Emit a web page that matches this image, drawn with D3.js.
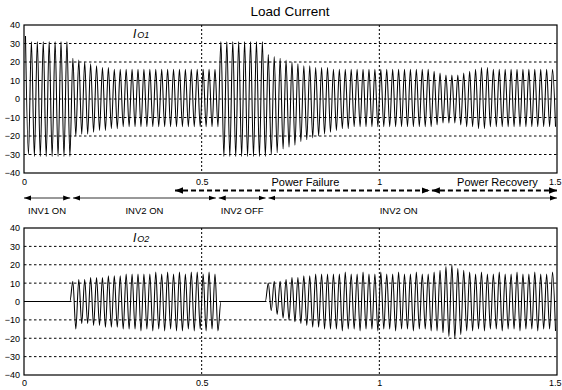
<!DOCTYPE html>
<html>
<head>
<meta charset="utf-8">
<script src="https://cdn.jsdelivr.net/npm/d3@7"></script>
<style>
	body{margin:0;background:#fff}
	text{font-family:'Liberation Sans',Arial,sans-serif;fill:#000}
</style>
</head>
<body>
<script>
// peak values per 60 Hz cycle (cycle i -> positive peak, then negative peak)
var freq = 60
var io1Pos = [
	34,31,31,31,31,31,31,31,
	22,21,20,19,18,17,17,16,16,16, 16,16,16,16,16,16,16,16,16,16, 16,16,16,16,16,
	31,31,31,31,31,31,31,31,
	24,23,22,21,20,19,18,18,17,17, 17,16,16,16,16,16,16,16,16,16, 16,16,16,16,16,16,16,16,
	15,14,13,13,13,14,15,
	16,17,17,16,16,16,16,16,16,16,16,16,16,16]
var io1Neg = [
	-30,-31,-31,-31,-31,-31,-31,-31,
	-20,-19,-19,-18,-17,-17,-16,-16,-15,-15, -15,-15,-15,-15,-15,-15,-15,-15,-15,-15, -15,-15,-15,-15,-15,
	-31,-31,-31,-31,-31,-31,-31,-31,
	-30,-29,-27,-26,-25,-23,-22,-21,-20,-19, -18,-17,-16,-16,-15,-15,-15,-15,-15,-15, -15,-15,-15,-15,-15,-15,-15,-15,
	-14,-13,-13,-13,-14,-15,-15,
	-16,-16,-15,-15,-15,-15,-15,-15,-15,-15,-15,-15,-15,-15]
var io2Pos = [
	0,0,0,0,0,0,0,0,
	11,12,12,13,13,13,14,14,14,15, 15,15,15,15,16,15,16,15,16,15, 16,16,15,16,15,
	0,0,0,0,0,0,0,0,
	10,11,11,12,13,13,14,14,15,15, 15,15,15,16,15,15,16,15,15,16, 15,15,16,15,15,16,15,15,
	16,17,19,20,18,17,16,
	15,16,15,15,16,15,15,16,15,15,16,15,15,16]
var io2Neg = [
	0,0,0,0,0,0,0,0,
	-15,-12,-12,-13,-13,-14,-14,-14,-15,-15, -15,-16,-15,-16,-15,-16,-15,-16,-16,-15, -16,-15,-16,-15,-16,
	0,0,0,0,0,0,0,0,
	-5,-7,-9,-10,-11,-12,-13,-14,-14,-15, -15,-15,-16,-15,-15,-16,-15,-15,-16,-15, -15,-16,-15,-15,-16,-15,-15,-16,
	-16,-17,-19,-20,-18,-16,-16,
	-15,-16,-15,-15,-16,-15,-15,-16,-15,-15,-16,-15,-15,-16]

var yTicks = [-40,-30,-20,-10,0,10,20,30,40]
var xTicks = [0,0.5,1,1.5]
var xTickLabels = ['0','0.5','1','1.5']
var xGrid = [0.5,1]

// inverter states and grid events along the time axis
var invStates = [
	{label:'INV1 ON', from:0, to:0.13},
	{label:'INV2 ON', from:0.138, to:0.54},
	{label:'INV2 OFF', from:0.548, to:0.68},
	{label:'INV2 ON', from:0.688, to:1.5}]
var powerEvents = [
	{label:'Power Failure', from:0.425, to:1.142},
	{label:'Power Recovery', from:1.148, to:1.5}]

var W = 562, H = 390
var svg = d3.select('body').append('svg').attr('width',W).attr('height',H)

var x = d3.scaleLinear().domain([0,1.5]).range([24,557])

var defs = svg.append('defs')
defs.append('marker').attr('id','ah').attr('markerUnits','userSpaceOnUse')
	.attr('markerWidth',8).attr('markerHeight',6).attr('refX',7).attr('refY',3)
	.attr('orient','auto-start-reverse')
	.append('path').attr('d','M0,0.6L7,3L0,5.4z').attr('fill','#000')
defs.append('marker').attr('id','ahb').attr('markerUnits','userSpaceOnUse')
	.attr('markerWidth',9).attr('markerHeight',8).attr('refX',8).attr('refY',4)
	.attr('orient','auto-start-reverse')
	.append('path').attr('d','M0,0.8L8,4L0,7.2z').attr('fill','#000')

svg.append('text').text('Load Current')
	.attr('x',290).attr('y',16).attr('text-anchor','middle').style('font-size','13.5px')

var panels = [
	{id:'io1', top:25, bottom:173, pos:io1Pos, neg:io1Neg, sub:'O1', ly:38},
	{id:'io2', top:228, bottom:375, pos:io2Pos, neg:io2Neg, sub:'O2', ly:242}]

panels.forEach(function(p,pi){
	var y = d3.scaleLinear().domain([-40,40]).range([p.bottom,p.top])
	var g = svg.append('g').attr('id',p.id)

	g.append('clipPath').attr('id','clip-'+p.id).append('rect')
		.attr('x',x(0)).attr('y',p.top).attr('width',x(1.5)-x(0)).attr('height',p.bottom-p.top)

	// grid
	var grid = g.append('g').attr('class','grid')
	grid.selectAll('line.h').data(yTicks.slice(1,-1)).enter().append('line').attr('class','h')
		.attr('x1',x(0)).attr('x2',x(1.5)).attr('y1',function(d){return y(d)}).attr('y2',function(d){return y(d)})
		.attr('stroke','#000').attr('stroke-width',1).attr('stroke-dasharray','2.5,2.5')
	grid.selectAll('line.v').data(xGrid).enter().append('line').attr('class','v')
		.attr('y1',p.top).attr('y2',p.bottom).attr('x1',function(d){return x(d)}).attr('x2',function(d){return x(d)})
		.attr('stroke','#000').attr('stroke-width',1).attr('stroke-dasharray','2,2')

	// trace
	var pts = []
	p.pos.forEach(function(v,i){
		pts.push({t:(i+0.25)/freq, v:v})
		pts.push({t:(i+0.75)/freq, v:p.neg[i]})
	})
	g.append('path').datum(pts).attr('clip-path','url(#clip-'+p.id+')')
		.attr('fill','none').attr('stroke','#000').attr('stroke-width',1.05)
		.attr('d',d3.line().x(function(d){return x(d.t)}).y(function(d){return y(d.v)}).curve(d3.curveMonotoneX))

	// frame
	g.append('rect').attr('x',x(0)).attr('y',p.top).attr('width',x(1.5)-x(0)).attr('height',p.bottom-p.top)
		.attr('fill','none').attr('stroke','#000').attr('stroke-width',1.2)

	// axes
	var ya = g.append('g').attr('transform','translate('+x(0)+',0)')
		.call(d3.axisLeft(y).tickValues(yTicks).tickSize(0).tickPadding(4))
	var xa = g.append('g').attr('transform','translate(0,'+p.bottom+')')
		.call(d3.axisBottom(x).tickValues(xTicks).tickSize(0).tickPadding(pi==0?6:5)
			.tickFormat(function(d,i){return xTickLabels[i]}))
	;[ya,xa].forEach(function(a){
		a.select('.domain').remove()
		a.selectAll('text').style('font-size','9px').style('font-family',"'Liberation Sans',Arial,sans-serif").attr('fill','#000')
	})
	// last x label sits flush with the right edge
	xa.selectAll('text').filter(function(d){return d==1.5}).attr('text-anchor','end').attr('x',4)

	// trace label
	var lab = g.append('text').attr('x',133).attr('y',p.ly).style('font-style','italic')
	lab.append('tspan').text('I').style('font-size','12px')
	lab.append('tspan').text(p.sub).style('font-size','9px').attr('dx',1)
})

// power failure / recovery row
var pr = svg.append('g').attr('id','power')
powerEvents.forEach(function(e){
	pr.append('line').attr('x1',x(e.from)).attr('x2',x(e.to)).attr('y1',190.5).attr('y2',190.5)
		.attr('stroke','#000').attr('stroke-width',1.8).attr('stroke-dasharray','5,3')
		.attr('marker-start','url(#ahb)').attr('marker-end','url(#ahb)')
	pr.append('text').text(e.label).attr('x',(x(e.from)+x(e.to))/2+3).attr('y',186)
		.attr('text-anchor','middle').style('font-size','11px')
})

// inverter states row
var ir = svg.append('g').attr('id','inverters')
invStates.forEach(function(e,i){
	ir.append('line').attr('x1',x(e.from)).attr('x2',x(e.to)).attr('y1',198).attr('y2',198)
		.attr('stroke','#333').attr('stroke-width',1)
		.attr('marker-start','url(#ah)').attr('marker-end','url(#ah)')
	var cx = (x(e.from)+x(e.to))/2
	if(i==3) cx = cx - 14
	ir.append('text').text(e.label).attr('x',cx).attr('y',214)
		.attr('text-anchor','middle').style('font-size','9.5px')
})
</script>
</body>
</html>
